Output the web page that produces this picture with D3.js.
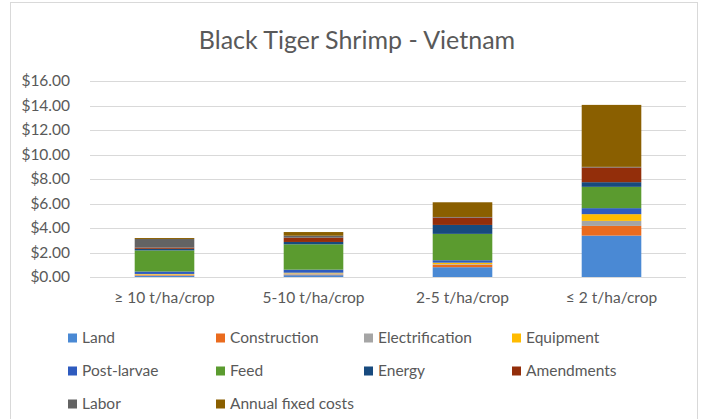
<!DOCTYPE html>
<html><head><meta charset="utf-8">
<script src="https://cdn.jsdelivr.net/npm/d3@7"></script>
<style>html,body{margin:0;padding:0;background:#fff;}svg{display:block;}</style>
</head><body>
<svg id="chart" width="705" height="419"></svg>
<script>
const categories = ["≥ 10 t/ha/crop", "5-10 t/ha/crop", "2-5 t/ha/crop", "≤ 2 t/ha/crop"];
const seriesNames = ["Land","Construction","Electrification","Equipment","Post-larvae","Feed","Energy","Amendments","Labor","Annual fixed costs"];
const land            = [0.10, 0.15, 0.80, 3.38];
const construction    = [0.05, 0.05, 0.20, 0.79];
const electrification = [0.05, 0.10, 0.05, 0.41];
const equipment       = [0.05, 0.05, 0.12, 0.55];
const postLarvae      = [0.20, 0.25, 0.20, 0.49];
const feed            = [1.72, 2.07, 2.15, 1.74];
const energy          = [0.13, 0.19, 0.73, 0.38];
const amendments      = [0.10, 0.35, 0.60, 1.20];
const labor           = [0.70, 0.16, 0.05, 0.05];
const annualFixed     = [0.08, 0.30, 1.20, 5.06];
const yTicks = [0, 2, 4, 6, 8, 10, 12, 14, 16];
const colors = ["#4a89d4","#ea6b1e","#a5a5a5","#ffbb00","#2e5bbf","#5b9b2f","#174a7e","#932e0a","#636363","#8a5f00"];

const seriesValues = [land, construction, electrification, equipment, postLarvae, feed, energy, amendments, labor, annualFixed];
const rows = categories.map((c, i) => {
  const o = {cat: c};
  seriesNames.forEach((s, j) => o[s] = seriesValues[j][i]);
  return o;
});

const svg = d3.select("#chart");
const font = "Lato, 'Open Sans', sans-serif";
const textColor = "#595959";

svg.append("rect").attr("x", 10.5).attr("y", 2.5).attr("width", 687).attr("height", 430)
  .attr("fill", "#fff").attr("stroke", "#d9d9d9");

const x = d3.scaleBand().domain(categories).range([90, 686]).paddingInner(0.6).paddingOuter(0.3);
const y = d3.scaleLinear().domain([0, 16]).range([277, 81]);

// gridlines
svg.append("g").selectAll("line").data(yTicks).join("line")
  .attr("x1", 90).attr("x2", 686)
  .attr("y1", d => Math.round(y(d)) + 0.5).attr("y2", d => Math.round(y(d)) + 0.5)
  .attr("stroke", "#d9d9d9").attr("stroke-width", 1);

// y axis labels
const yAxis = d3.axisLeft(y).tickValues(yTicks).tickSize(0).tickPadding(0)
  .tickFormat(d => "$" + d3.format(".2f")(d));
const ya = svg.append("g").attr("transform", "translate(70,0)").call(yAxis);
ya.select(".domain").remove();
ya.selectAll("text").attr("fill", textColor).style("font-family", font).style("font-size", "15.5px");

// stacked bars
const stack = d3.stack().keys(seriesNames)(rows);
svg.append("g").selectAll("g").data(stack).join("g")
  .attr("fill", (d, i) => colors[i])
  .selectAll("rect").data(d => d).join("rect")
  .attr("x", d => x(d.data.cat))
  .attr("width", x.bandwidth())
  .attr("y", d => y(d[1]))
  .attr("height", d => y(d[0]) - y(d[1]));

// x axis labels
const xAxis = d3.axisBottom(x).tickSize(0).tickPadding(0);
const xa = svg.append("g").attr("transform", "translate(0,291)").call(xAxis);
xa.select(".domain").remove();
xa.selectAll("text").attr("fill", textColor).attr("dy", "0.8em").style("font-family", font).style("font-size", "15.5px");

// baseline axis line
svg.append("line").attr("x1", 90).attr("x2", 686).attr("y1", 277.5).attr("y2", 277.5).attr("stroke", "#d9d9d9");

// title
svg.append("text").attr("x", 357).attr("y", 49).attr("text-anchor", "middle")
  .attr("fill", textColor).style("font-family", font).style("font-size", "25px")
  .text("Black Tiger Shrimp - Vietnam");

// legend
const legend = svg.append("g");
const colX = [68, 216, 364, 512];
const rowY = [338, 371, 404];
seriesNames.forEach((s, i) => {
  const cx = colX[i % 4], cy = rowY[Math.floor(i / 4)];
  const g = legend.append("g").attr("transform", `translate(${cx},${cy})`);
  g.append("rect").attr("x", 0).attr("y", -4.5).attr("width", 9).attr("height", 9).attr("fill", colors[i]);
  g.append("text").attr("x", 14).attr("y", 0).attr("dy", "0.35em")
    .attr("fill", textColor).style("font-family", font).style("font-size", "15.5px").text(s);
});
</script>
</body></html>
